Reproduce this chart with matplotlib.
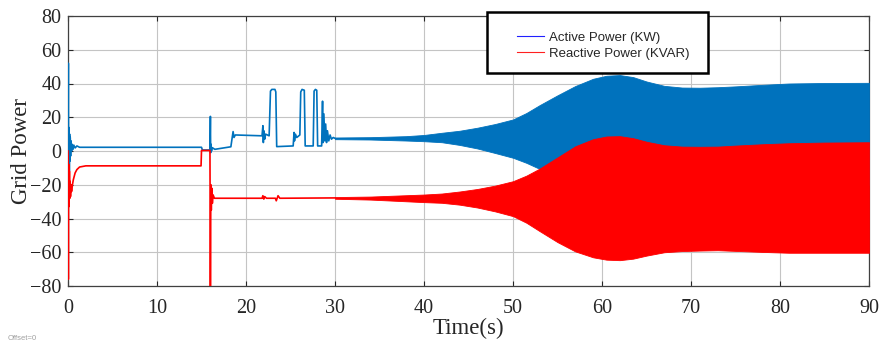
import numpy as np
import matplotlib
matplotlib.use("Agg")
import matplotlib.pyplot as plt
from matplotlib.lines import Line2D
from matplotlib.patches import Rectangle

# --- data (time in s, power in kW / kVAR) ---

# active power, transient part (0 - 30 s)
t_active = [0.00, 0.04, 0.06, 0.08, 0.10, 0.12, 0.15, 0.18, 0.21, 0.25, 0.29, 0.34,
            0.40, 0.46, 0.55, 0.65, 0.80, 1.00, 1.30, 15.0, 15.1, 15.95, 16.0, 16.03,
            16.07, 16.12, 16.2, 16.5, 18.3, 18.45, 18.55, 18.65, 18.8, 21.8, 21.9, 21.95,
            22.0, 22.1, 22.2, 22.6, 22.75, 22.9, 23.25, 23.35, 23.45, 25.3, 25.4, 25.45,
            25.55, 25.7, 26.05, 26.15, 26.3, 26.55, 26.65, 27.55, 27.65, 27.8, 27.95, 28.05,
            28.5, 28.6, 28.65, 28.75, 28.85, 28.95, 29.05, 29.15, 29.3, 29.45, 29.6, 29.8, 30.0]
p_active = [0, 52, 5, 14, -8, 12, -12, 10, -6, 8, -3, 6,
            0, 4, 1, 3.5, 1.8, 3, 2.2, 2.2, 0.6, 0.6, 20.5, -1,
            4, 0, 2, 1, 2.5, 8, 11.5, 8, 9.5, 9, 15, 5,
            12, 7, 10, 9, 35.5, 36.5, 36.5, 35, 2.6, 3, 11, 6,
            10, 8, 9.5, 35, 36.5, 36, 3, 3, 35.5, 36.5, 36, 3,
            3, 29.5, 5, 22, 6, 16, 5, 12, 6, 9.5, 7, 8, 7.5]

# reactive power, transient part (0 - 30 s)
t_reactive = [0.00, 0.02, 0.04, 0.06, 0.08, 0.10, 0.13, 0.16, 0.20, 0.24, 0.28, 0.33,
              0.40, 0.50, 0.60, 0.80, 1.00, 1.30, 2.00, 14.95, 15.0, 15.95, 16.0, 16.05,
              16.1, 16.15, 16.22, 16.3, 16.45, 21.8, 21.9, 22.0, 22.1, 22.3, 23.3, 23.4,
              23.6, 23.8, 30.0]
q_reactive = [0, -5, -76, -20, -33, -8, -30, -12, -28, -18, -27, -20,
              -24, -20, -17, -13, -11, -9.5, -8.8, -8.8, 0.3, 0.3, -85, -20,
              -35, -22, -31, -26, -28, -28, -26.5, -28.5, -27, -28, -28, -29.5,
              -26.5, -28, -27.8]

# oscillation envelopes (30 - 90 s)
t_env = [30, 34, 38, 40, 42, 44, 46, 48, 50, 51.5, 53, 55, 57, 59, 60.5, 62, 63.5,
         65, 67, 69, 71, 73, 75, 78, 81, 85, 90]
active_hi = [8.0, 8.2, 8.8, 9.5, 10.8, 12.0, 13.8, 16.0, 18.7, 22.5, 27.2, 33.0, 38.5, 42.8, 44.6, 45.0, 43.8,
             41.2, 38.6, 37.6, 37.5, 37.8, 38.3, 39.2, 40.0, 40.3, 40.4]
active_lo = [7.0, 6.8, 6.2, 5.8, 5.2, 3.6, 1.5, -1.2, -4.0, -7.0, -10.6, -14.0, -18.0, -20.0, -20.0, -20.0, -20.0,
             -20.0, -20.0, -20.0, -20.0, -20.0, -20.0, -20.0, -20.0, -20.0, -20.0]
reactive_hi = [-27.3, -27.0, -26.2, -25.8, -25.2, -24.0, -22.5, -20.5, -17.9, -14.6, -10.4, -3.8, 2.8, 7.0, 8.6, 8.8, 7.6,
               5.5, 3.4, 2.6, 2.5, 2.6, 3.2, 4.0, 4.6, 5.0, 5.2]
reactive_lo = [-28.3, -28.8, -29.8, -30.3, -30.7, -31.8, -33.5, -35.8, -38.6, -42.5, -47.5, -54.0, -59.5, -63.0, -64.4, -64.7, -63.8,
               -62.0, -60.0, -59.3, -59.0, -58.8, -59.2, -59.8, -60.3, -60.3, -60.3]

x_ticks = [0, 10, 20, 30, 40, 50, 60, 70, 80, 90]
y_ticks = [-80, -60, -40, -20, 0, 20, 40, 60, 80]

BLUE = "#0072BD"
RED = "#FF0000"


def plot_grid_power():
    """Draws active / reactive grid power against time."""
    fig = plt.figure(figsize=(8.81, 3.44), dpi=100)
    ax = fig.add_axes([68 / 881, 58 / 344, 801 / 881, 270 / 344])

    ax.plot(t_active, p_active, color=BLUE, lw=1.2, zorder=3)
    ax.fill_between(t_env, active_lo, active_hi, color=BLUE, lw=0.6, zorder=3)
    ax.plot(t_reactive, q_reactive, color=RED, lw=1.2, zorder=4)
    ax.fill_between(t_env, reactive_lo, reactive_hi, color=RED, lw=0.6, zorder=4)

    ax.set_xlim(0, 90)
    ax.set_ylim(-80, 80)
    ax.set_xticks(x_ticks)
    ax.set_yticks(y_ticks)
    ax.grid(True, color="#c4c4c4", lw=0.8)
    ax.set_axisbelow(True)
    ax.tick_params(direction="in", length=3.5, width=0.8, top=True, right=True,
                   labelsize=14.5, colors="#262626")
    ax.tick_params(axis="x", pad=9.5)
    ax.tick_params(axis="y", pad=4.5)
    for lab in ax.get_xticklabels() + ax.get_yticklabels():
        lab.set_family("Liberation Serif")
    for s in ax.spines.values():
        s.set_color("#404040")
        s.set_linewidth(0.9)

    ax.set_xlabel("Time(s)", family="Liberation Serif", fontsize=16.5, labelpad=0, color="#262626")
    ax.set_ylabel("Grid Power", family="Liberation Serif", fontsize=16.5, labelpad=-1, color="#262626")

    # legend box (MATLAB style)
    box = Rectangle((419 / 801, 213 / 270), 221 / 801, 61 / 270, transform=ax.transAxes,
                    facecolor="white", edgecolor="black", lw=1.8, clip_on=False, zorder=5)
    ax.add_patch(box)
    handles = [Line2D([], [], color="#2020ff", lw=0.8),
               Line2D([], [], color="#ff2020", lw=0.8)]
    leg = ax.legend(handles, ["Active Power (KW)", "Reactive Power (KVAR)"],
                    loc="center left", bbox_to_anchor=(449 / 801, 240.5 / 270),
                    frameon=False, borderpad=0, borderaxespad=0, handlelength=2.05,
                    handletextpad=0.35, labelspacing=0.3,
                    prop={"family": "Liberation Sans", "size": 9.5})
    leg.set_zorder(6)
    for txt in leg.get_texts():
        txt.set_color("#262626")

    fig.text(0.009, 0.012, "Offset=0", fontsize=5.5, color="#a0a0a0", family="Liberation Sans")
    fig.savefig("out.png", dpi=100)


plot_grid_power()
